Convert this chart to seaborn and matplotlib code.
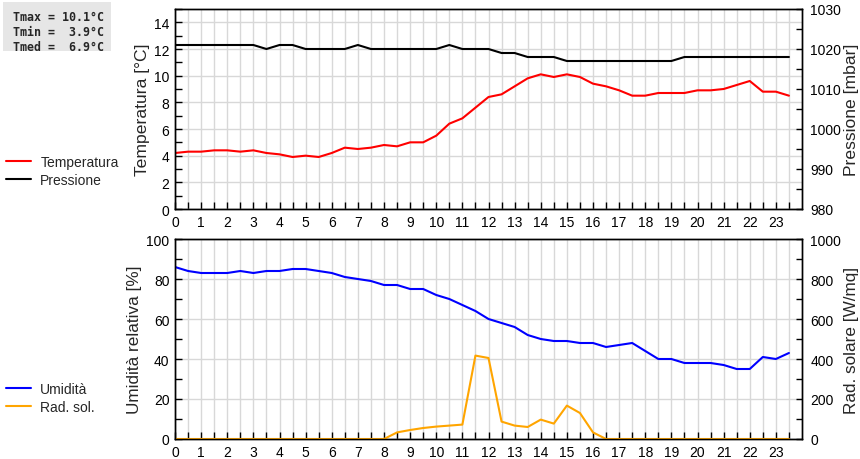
import numpy as np
import pandas as pd
import matplotlib
matplotlib.use("Agg")
import matplotlib.pyplot as plt
from matplotlib.patches import Rectangle
from matplotlib.ticker import MultipleLocator
import seaborn as sns

# dati ogni mezz'ora
ore = np.arange(0, 24, 0.5)

temperatura = [4.2, 4.3, 4.3, 4.4, 4.4, 4.3, 4.4, 4.2, 4.1, 3.9,
               4.0, 3.9, 4.2, 4.6, 4.5, 4.6, 4.8, 4.7, 5.0, 5.0,
               5.5, 6.4, 6.8, 7.6, 8.4, 8.6, 9.2, 9.8, 10.1, 9.9,
               10.1, 9.9, 9.4, 9.2, 8.9, 8.5, 8.5, 8.7, 8.7, 8.7,
               8.9, 8.9, 9.0, 9.3, 9.6, 8.8, 8.8, 8.5]

pressione = [1021, 1021, 1021, 1021, 1021, 1021, 1021, 1020, 1021, 1021,
             1020, 1020, 1020, 1020, 1021, 1020, 1020, 1020, 1020, 1020,
             1020, 1021, 1020, 1020, 1020, 1019, 1019, 1018, 1018, 1018,
             1017, 1017, 1017, 1017, 1017, 1017, 1017, 1017, 1017, 1018,
             1018, 1018, 1018, 1018, 1018, 1018, 1018, 1018]

umidita = [86, 84, 83, 83, 83, 84, 83, 84, 84, 85,
           85, 84, 83, 81, 80, 79, 77, 77, 75, 75,
           72, 70, 67, 64, 60, 58, 56, 52, 50, 49,
           49, 48, 48, 46, 47, 48, 44, 40, 40, 38,
           38, 38, 37, 35, 35, 41, 40, 43]

rad_sol = [0, 0, 0, 0, 0, 0, 0, 0, 0, 0,
           0, 0, 0, 0, 0, 0, 0, 33, 45, 55,
           62, 67, 72, 417, 405, 87, 67, 60, 97, 77,
           167, 130, 33, 0, 0, 0, 0, 0, 0, 0,
           0, 0, 0, 0, 0, 0, 0, 0]

df = pd.DataFrame({"ora": ore, "temperatura": temperatura, "pressione": pressione,
                   "umidita": umidita, "rad_sol": rad_sol})

sns.set_theme(style="white")
plt.rcParams['font.family'] = ['Liberation Sans', 'DejaVu Sans']

fig = plt.figure(figsize=(8.6, 4.6), dpi=100)
W, H = 860, 460
ax1 = fig.add_axes([175 / W, 1 - 210 / H, 627 / W, 200 / H])
ax1r = ax1.twinx()
ax2 = fig.add_axes([175 / W, 1 - 440 / H, 627 / W, 200 / H])
ax2r = ax2.twinx()

sns.lineplot(data=df, x="ora", y="temperatura", ax=ax1, color="#ff0000", lw=1.5, legend=False)
sns.lineplot(data=df, x="ora", y="pressione", ax=ax1r, color="#000000", lw=1.5, legend=False)
sns.lineplot(data=df, x="ora", y="umidita", ax=ax2, color="#0000ff", lw=1.5, legend=False)
sns.lineplot(data=df, x="ora", y="rad_sol", ax=ax2r, color="#ffa500", lw=1.5, legend=False)

ax1.set_ylim(0, 15)
ax1r.set_ylim(980, 1030)
ax2.set_ylim(0, 100)
ax2r.set_ylim(0, 1000)

ax1.yaxis.set_major_locator(MultipleLocator(2))
ax1.yaxis.set_minor_locator(MultipleLocator(1))
ax1r.yaxis.set_major_locator(MultipleLocator(10))
ax1r.yaxis.set_minor_locator(MultipleLocator(5))
ax2.yaxis.set_major_locator(MultipleLocator(20))
ax2.yaxis.set_minor_locator(MultipleLocator(10))
ax2r.yaxis.set_major_locator(MultipleLocator(200))
ax2r.yaxis.set_minor_locator(MultipleLocator(100))

ax1.set_ylabel("Temperatura [°C]", fontsize=12.6, labelpad=3)
ax1r.set_ylabel("Pressione [mbar]", fontsize=12.6, labelpad=2)
ax2.set_ylabel("Umidità relativa [%]", fontsize=12.3, labelpad=3)
ax2r.set_ylabel("Rad. solare [W/mq]", fontsize=12.3, labelpad=2)

for ax in (ax1, ax2):
    ax.set_xlim(0, 24)
    ax.set_xticks(range(24))
    ax.set_xticks(np.arange(0.5, 24, 1), minor=True)
    ax.set_xlabel("")
    ax.grid(True, which="both", axis="x", color="#d8d8d8", lw=1)
    ax.grid(True, which="major", axis="y", color="#d8d8d8", lw=1)
    ax.set_axisbelow(True)
    ax.tick_params(axis="x", which="both", direction="in", length=5, width=1,
                   labelsize=10, pad=4, colors="black", bottom=True)
    ax.tick_params(axis="y", which="both", direction="in", length=5, width=1,
                   labelsize=10, pad=4, colors="black", left=True)

for ax in (ax1r, ax2r):
    ax.tick_params(axis="y", which="both", direction="in", length=4, width=1,
                   labelsize=10, pad=6, colors="black", right=True)

for ax in (ax1, ax1r, ax2, ax2r):
    for sp in ax.spines.values():
        sp.set_color("black")
        sp.set_linewidth(1)

# legende a sinistra
fig.legend([ax1.get_lines()[0], ax1r.get_lines()[0]], ["Temperatura", "Pressione"],
           loc="center left", bbox_to_anchor=(0, 1 - 172 / H), frameon=False,
           fontsize=10, handlelength=1.8, handletextpad=0.7, labelspacing=0.3,
           borderaxespad=0, borderpad=0.4)
fig.legend([ax2.get_lines()[0], ax2r.get_lines()[0]], ["Umidità", "Rad. sol."],
           loc="center left", bbox_to_anchor=(0, 1 - 399 / H), frameon=False,
           fontsize=10, handlelength=1.8, handletextpad=0.7, labelspacing=0.3,
           borderaxespad=0, borderpad=0.4)

# riquadro con statistiche
t = np.array(temperatura)
stats = (f"Tmax = {t.max():4.1f}°C\n"
         f"Tmin = {t.min():4.1f}°C\n"
         f"Tmed = {t.mean():4.1f}°C")
fig.patches.append(Rectangle((3 / W, 1 - 52 / H), 108 / W, 49 / H,
                             transform=fig.transFigure, facecolor="#e6e6e6",
                             edgecolor="none", zorder=0))
fig.text(13 / W, 1 - 11 / H, stats, ha="left", va="top", fontsize=8.4,
         family="DejaVu Sans Mono", weight="bold", linespacing=1.2)

fig.savefig("out.png", dpi=100)
